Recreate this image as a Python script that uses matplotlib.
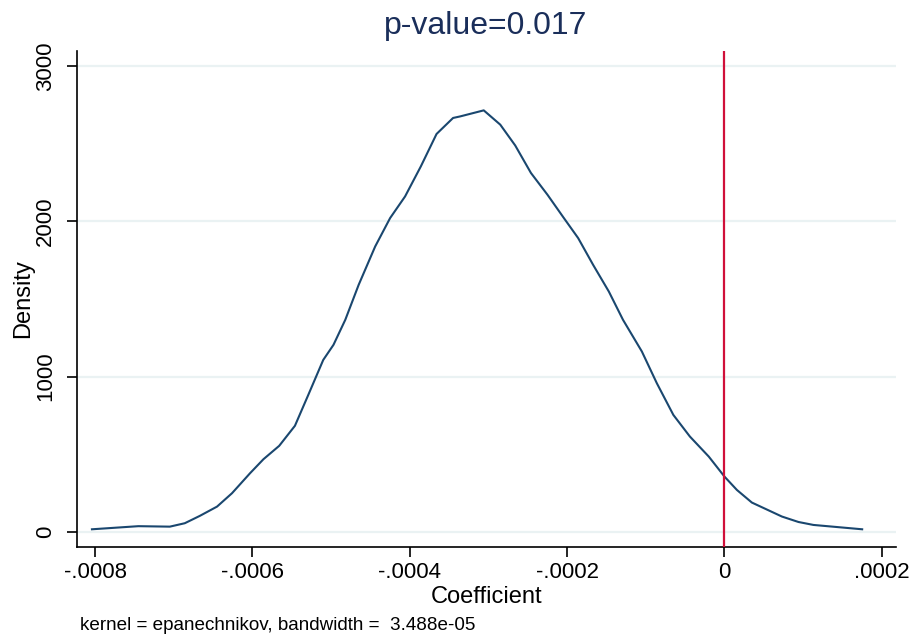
import matplotlib
matplotlib.use("Agg")
import matplotlib.pyplot as plt

plt.rcParams['font.family'] = ['Liberation Sans', 'DejaVu Sans']

# Kernel density estimate of coefficient
coef = [-0.000804, -0.000745, -0.000705, -0.000686, -0.000667, -0.000645, -0.000626,
        -0.000603, -0.000586, -0.000566, -0.000546, -0.000529, -0.000510, -0.000497,
        -0.000482, -0.000465, -0.000444, -0.000425, -0.000406, -0.000386, -0.000366,
        -0.000345, -0.000336, -0.000306, -0.000285, -0.000266, -0.000246, -0.000225,
        -0.000205, -0.000186, -0.000167, -0.000147, -0.000129, -0.000105, -0.000086,
        -0.000065, -0.000044, -0.000020, 0.0, 0.0000158, 0.0000348, 0.000073,
        0.000094, 0.000113, 0.000175]
density = [17, 37, 34, 56, 103, 163, 249, 378, 468, 554, 683, 882, 1107, 1204,
           1365, 1590, 1837, 2020, 2159, 2352, 2561, 2664, 2674, 2713, 2621, 2487,
           2310, 2170, 2026, 1891, 1719, 1547, 1365, 1161, 957, 753, 614, 485, 356,
           270, 189, 99, 64, 45, 17]

x_ticks = [-0.0008, -0.0006, -0.0004, -0.0002, 0.0, 0.0002]
x_tick_labels = ["-.0008", "-.0006", "-.0004", "-.0002", "0", ".0002"]
y_ticks = [0, 1000, 2000, 3000]
y_tick_labels = ["0", "1000", "2000", "3000"]
ref_value = 0.0
title = "p-value=0.017"
note = "kernel = epanechnikov, bandwidth =  3.488e-05"

fig = plt.figure(figsize=(9.16, 6.39), dpi=100)
ax = fig.add_axes([77/916, 1 - 547/639, (896 - 77)/916, (547 - 51)/639])

for yt in y_ticks:
    ax.axhline(yt, color='#eaf2f3', lw=1.6, zorder=0)

ax.plot(coef, density, color='#1a476f', lw=1.5, zorder=2)
ax.axvline(ref_value, color='#d0103a', lw=1.6, zorder=3)

ax.set_xlim(-0.000823, 0.000218)
ax.set_ylim(-97, 3095)
ax.set_xticks(x_ticks)
ax.set_xticklabels(x_tick_labels)
ax.set_yticks(y_ticks)
ax.set_yticklabels(y_tick_labels, rotation=90, va='center')

for s in ['top', 'right']:
    ax.spines[s].set_visible(False)
for s in ['left', 'bottom']:
    ax.spines[s].set_linewidth(1.2)
ax.tick_params(axis='both', direction='out', length=7, width=1.2, labelsize=16)
ax.tick_params(axis='x', pad=4)
ax.tick_params(axis='y', pad=8)

ax.set_xlabel("Coefficient", fontsize=17, labelpad=2)
ax.set_ylabel("Density", fontsize=17, labelpad=1)

fig.text(486/916, 1 - 26/639, title, ha='center', va='center', fontsize=23, color='#1a2e5a')
fig.text(80/916, 1 - 626/639, note, ha='left', va='center', fontsize=13.6)

fig.savefig("out.png", dpi=100)
